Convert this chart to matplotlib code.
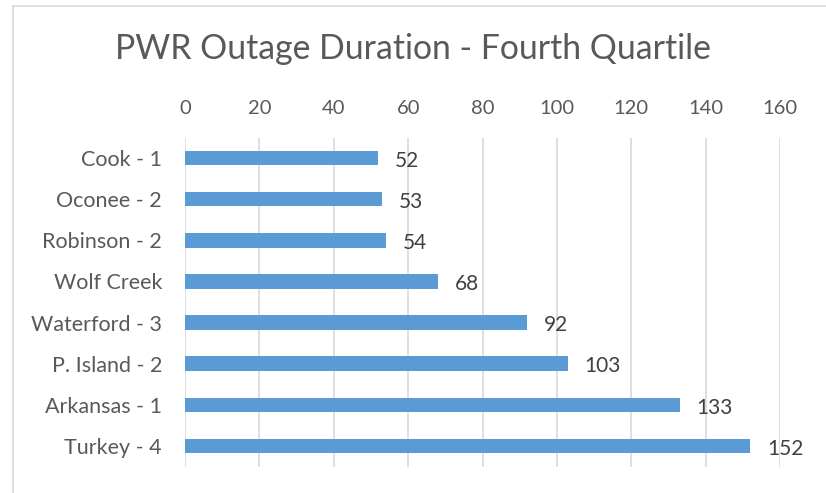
import matplotlib
matplotlib.use("Agg")
import matplotlib.pyplot as plt
from matplotlib.lines import Line2D

plants = ["Cook - 1", "Oconee - 2", "Robinson - 2", "Wolf Creek", "Waterford - 3",
          "P. Island - 2", "Arkansas - 1", "Turkey - 4"]
duration = [52, 53, 54, 68, 92, 103, 133, 152]
ticks = [0, 20, 40, 60, 80, 100, 120, 140, 160]

plt.rcParams["font.family"] = ["Lato", "DejaVu Sans"]

W, H = 826, 493
fig = plt.figure(figsize=(W / 100, H / 100), dpi=100)
# plot area in pixels: left 185, right 780, top 137.5, bottom 466.5
ax = fig.add_axes([185 / W, 1 - 466.5 / H, (780 - 185) / W, (466.5 - 137.5) / H])

y = list(range(len(plants)))
ax.barh(y, duration, height=0.35, color="#5b9bd5", zorder=3)
for yi, v in zip(y, duration):
    ax.annotate(str(v), (v, yi), xytext=(12, -2), textcoords="offset points",
                va="center", ha="left", fontsize=15, color="#404040")

ax.set_xlim(0, 160)
ax.set_ylim(len(plants) - 0.5, -0.5)
ax.set_xticks(ticks)
ax.set_yticks(y)
ax.set_yticklabels(plants)
ax.xaxis.tick_top()
ax.tick_params(axis="x", length=0, pad=15, labelsize=14.5, labelcolor="#595959")
ax.tick_params(axis="y", length=0, pad=16.5, labelsize=15.5, labelcolor="#595959")
ax.grid(axis="x", color="#d9d9d9", linewidth=1.2, zorder=0)
for s in ax.spines.values():
    s.set_visible(False)

fig.text(0.5, 1 - 49 / H, "PWR Outage Duration - Fourth Quartile", ha="center", va="center",
         fontsize=24.3, color="#595959")

# chart border (left and top visible)
fig.add_artist(Line2D([13 / W, 13 / W], [0, 1 - 6 / H], color="#d9d9d9", linewidth=1.2))
fig.add_artist(Line2D([13 / W, 1], [1 - 6 / H, 1 - 6 / H], color="#d9d9d9", linewidth=1.2))

fig.savefig("out.png", dpi=100)
